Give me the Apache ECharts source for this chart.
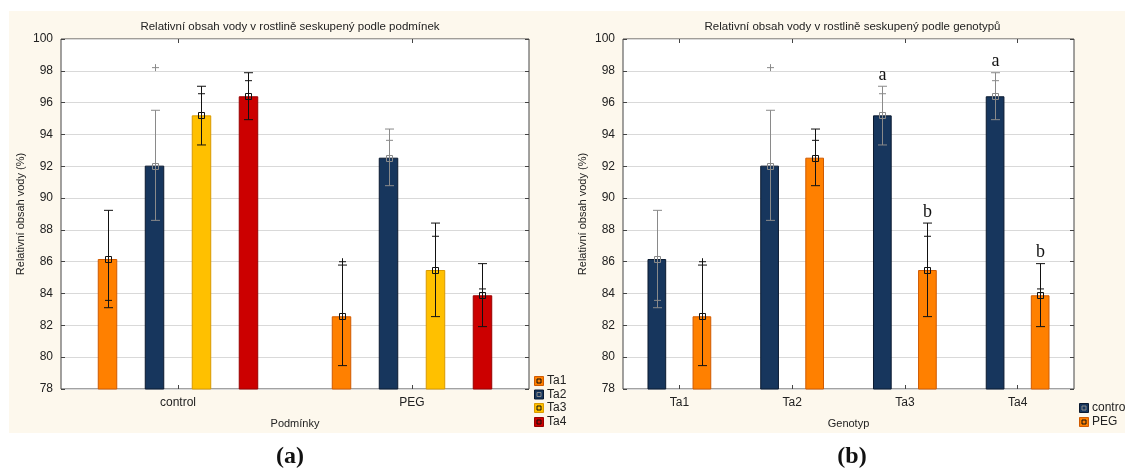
<!DOCTYPE html>
<html><head><meta charset="utf-8">
<script src="https://cdn.jsdelivr.net/npm/echarts@6/dist/echarts.min.js"></script>
<style>html,body{margin:0;padding:0;background:#fff;}#c{width:1125px;height:472px;}</style>
</head><body><div id="c"></div>
<script>
// ---- data ----
const genotypes = ['Ta1', 'Ta2', 'Ta3', 'Ta4'];
const conditions = ['control', 'PEG'];
const yTickLabels = ['78','80','82','84','86','88','90','92','94','96','98','100'];
const meanControl  = [86.17, 92.04, 95.20, 96.40];
const meanPEG      = [82.57, 92.54, 85.48, 83.89];
const lowControl   = [83.11, 88.60, 93.34, 94.93];
const highControl  = [89.23, 95.52, 97.03, 97.88];
const lowPEG       = [79.47, 90.78, 82.55, 81.92];
const highPEG      = [85.79, 94.34, 88.43, 85.88];
const extraControl = [83.57, 98.20, 96.56, 97.38];
const extraPEG     = [86.00, 93.63, 87.60, 84.29];
const lettersControl = ['', '', 'a', 'a'];
const lettersPEG     = ['', '', 'b', 'b'];
const titleA = 'Relativní obsah vody v rostlině seskupený podle podmínek';
const titleB = 'Relativní obsah vody v rostlině seskupený podle genotypů';
const yName = 'Relativní obsah vody (%)';

// ---- styles ----
const genoColors  = ['#FF8000', '#17365D', '#FFC000', '#CC0000'];
const genoBorders = ['#D05A00', '#0B1A30', '#D99A00', '#990000'];
const genoWhisk   = ['#111111', '#8a8a8a', '#111111', '#111111'];
const condColors  = ['#17365D', '#FF8000'];
const condBorders = ['#0B1A30', '#D05A00'];
const condWhisk   = ['#8a8a8a', '#111111'];
const font = 'Liberation Sans, Arial, sans-serif';
const GAP = 1.41;
const BW_A = 19.5, BW_B = 18.7;

const yMin = +yTickLabels[0], yMax = +yTickLabels[yTickLabels.length-1], yStep = +yTickLabels[1] - +yTickLabels[0];

function yAxisDef(gridIndex, pos, showLabel) {
  return {
    type: 'value', gridIndex, position: pos, min: yMin, max: yMax, interval: yStep,
    axisLine: {show: false},
    axisTick: {show: true, inside: true, length: 4, lineStyle: {color: '#444'}},
    axisLabel: {show: showLabel, margin: 8, color: '#222', fontFamily: font, fontSize: 12},
    splitLine: {show: showLabel, lineStyle: {color: '#d9d9d9', width: 1}},
    name: showLabel ? yName : '', nameLocation: 'middle', nameGap: 35, nameRotate: 90,
    nameTextStyle: {fontFamily: font, fontSize: 11, color: '#222'}
  };
}
function xAxisDef(gridIndex, pos, cats, showLabel, name) {
  return {
    type: 'category', gridIndex, position: pos, data: cats,
    axisLine: {show: false},
    axisTick: {show: true, inside: true, length: 4, alignWithLabel: true, lineStyle: {color: '#444'}},
    axisLabel: {show: showLabel, margin: 8, color: '#222', fontFamily: font, fontSize: 12},
    splitLine: {show: false},
    name: showLabel ? name : '', nameLocation: 'middle', nameGap: 29,
    nameTextStyle: {fontFamily: font, fontSize: 11, color: '#222'}
  };
}

function errSeries(xi, yi, idx, n, bw, lows, highs, means, extras, letters, color) {
  return {
    type: 'custom', xAxisIndex: xi, yAxisIndex: yi, z: 10, clip: false,
    data: lows.map((l, i) => [i, l, highs[i], means[i], extras[i]]),
    encode: {x: 0, y: [1, 2, 3, 4]},
    renderItem: function (params, api) {
      const ci = api.value(0);
      const off = (idx - (n - 1) / 2) * bw * (1 + GAP);
      const pL = api.coord([ci, api.value(1)]);
      const pH = api.coord([ci, api.value(2)]);
      const pM = api.coord([ci, api.value(3)]);
      const pE = api.coord([ci, api.value(4)]);
      const x = Math.round(pL[0] + off) + 0.5;
      const st = {stroke: color, lineWidth: 1, fill: null};
      const ch = [
        {type: 'line', shape: {x1: x, y1: pL[1], x2: x, y2: pH[1]}, style: st},
        {type: 'line', shape: {x1: x - 4.5, y1: pL[1], x2: x + 4.5, y2: pL[1]}, style: st},
        {type: 'line', shape: {x1: x - 4.5, y1: pH[1], x2: x + 4.5, y2: pH[1]}, style: st},
        {type: 'line', shape: {x1: x - 3.5, y1: pE[1], x2: x + 3.5, y2: pE[1]}, style: st},
        {type: 'line', shape: {x1: x, y1: pE[1] - 3.5, x2: x, y2: pE[1] + 3.5}, style: st},
        {type: 'rect', shape: {x: x - 3, y: Math.round(pM[1]) - 2.5, width: 6, height: 6}, style: {stroke: color, lineWidth: 1, fill: null}}
      ];
      const letter = letters ? letters[params.dataIndex] : '';
      if (letter) {
        ch.push({type: 'text', x: x, y: pH[1] - 2,
          style: {text: letter, fill: '#111', font: '18px "Liberation Serif", "Times New Roman", serif', align: 'center', verticalAlign: 'bottom'}});
      }
      return {type: 'group', children: ch};
    }
  };
}

const series = [];
// panel (a): one series per genotype over conditions
genotypes.forEach((g, gi) => {
  series.push({
    name: g, type: 'bar', xAxisIndex: 0, yAxisIndex: 0, barWidth: BW_A, barGap: (GAP * 100) + '%',
    data: [meanControl[gi], meanPEG[gi]],
    itemStyle: {color: genoColors[gi], borderColor: genoBorders[gi], borderWidth: 1}
  });
});
genotypes.forEach((g, gi) => {
  series.push(errSeries(0, 0, gi, 4, BW_A,
    [lowControl[gi], lowPEG[gi]], [highControl[gi], highPEG[gi]],
    [meanControl[gi], meanPEG[gi]], [extraControl[gi], extraPEG[gi]], null, genoWhisk[gi]));
});
// panel (b): one series per condition over genotypes
const condMeans = [meanControl, meanPEG], condLows = [lowControl, lowPEG], condHighs = [highControl, highPEG],
      condExtras = [extraControl, extraPEG], condLetters = [lettersControl, lettersPEG];
conditions.forEach((c, ci) => {
  series.push({
    name: c, type: 'bar', xAxisIndex: 2, yAxisIndex: 2, barWidth: BW_B, barGap: (GAP * 100) + '%',
    data: condMeans[ci],
    itemStyle: {color: condColors[ci], borderColor: condBorders[ci], borderWidth: 1}
  });
});
conditions.forEach((c, ci) => {
  series.push(errSeries(2, 2, ci, 2, BW_B, condLows[ci], condHighs[ci], condMeans[ci], condExtras[ci], condLetters[ci], condWhisk[ci]));
});

// legends (drawn as graphics)
function legendItems(x, yCenters, labels, colors, borders, markers) {
  const out = [];
  labels.forEach((lab, i) => {
    const yc = yCenters[i];
    out.push({type: 'rect', shape: {x: x + 0.5, y: yc - 4.5, width: 9, height: 9},
      style: {fill: colors[i], stroke: borders[i], lineWidth: 1}, z: 100});
    out.push({type: 'rect', shape: {x: x + 3, y: yc - 2, width: 4, height: 4},
      style: {fill: null, stroke: markers[i], lineWidth: 1}, z: 101});
    out.push({type: 'text', x: x + 13, y: yc,
      style: {text: lab, fill: '#222', font: '12px ' + font, verticalAlign: 'middle', align: 'left'}, z: 101});
  });
  return out;
}

const graphic = [
  {type: 'rect', shape: {x: 9, y: 11, width: 1116, height: 422}, style: {fill: '#fdf8ed'}, z: -10, silent: true},
  {type: 'text', x: 290, y: 26.5, style: {text: titleA, fill: '#222', font: '11.5px ' + font, align: 'center', verticalAlign: 'middle'}},
  {type: 'text', x: 852.5, y: 26.5, style: {text: titleB, fill: '#222', font: '11.5px ' + font, align: 'center', verticalAlign: 'middle'}},
  {type: 'text', x: 290, y: 457, style: {text: '(a)', fill: '#111', font: 'bold 24px "Liberation Serif", serif', align: 'center', verticalAlign: 'middle'}},
  {type: 'text', x: 852, y: 457, style: {text: '(b)', fill: '#111', font: 'bold 24px "Liberation Serif", serif', align: 'center', verticalAlign: 'middle'}}
].concat(
  legendItems(534, [381, 394.5, 408, 422], genotypes, genoColors, genoBorders, ['#111', '#8a8a8a', '#111', '#111']),
  legendItems(1079, [408, 422], conditions, condColors, condBorders, ['#8a8a8a', '#111'])
);

const chart = echarts.init(document.getElementById('c'), null, {renderer: 'canvas'});
chart.setOption({
  animation: false,
  grid: [
    {left: 61, top: 39, width: 468, height: 350, show: true, backgroundColor: '#fff', borderColor: '#444', borderWidth: 1, containLabel: false},
    {left: 623, top: 39, width: 451, height: 350, show: true, backgroundColor: '#fff', borderColor: '#444', borderWidth: 1, containLabel: false}
  ],
  xAxis: [
    xAxisDef(0, 'bottom', conditions, true, 'Podmínky'),
    xAxisDef(0, 'top', conditions, false, ''),
    xAxisDef(1, 'bottom', genotypes, true, 'Genotyp'),
    xAxisDef(1, 'top', genotypes, false, '')
  ],
  yAxis: [
    yAxisDef(0, 'left', true),
    yAxisDef(0, 'right', false),
    yAxisDef(1, 'left', true),
    yAxisDef(1, 'right', false)
  ],
  series: series,
  graphic: graphic
});
</script></body></html>
